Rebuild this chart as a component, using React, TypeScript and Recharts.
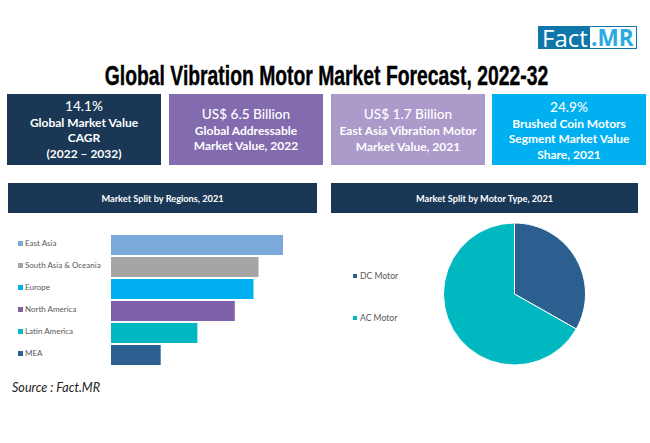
import { BarChart, Bar, XAxis, YAxis, Cell, PieChart, Pie, Legend } from "recharts";

const regions = ["East Asia", "South Asia & Oceania", "Europe", "North America", "Latin America", "MEA"];
const regionShare = [23.9, 20.5, 19.8, 17.2, 12.0, 6.9];
const regionColors = ["#7BA9DA", "#A5A5A5", "#00B0F0", "#7D60A8", "#00B8C0", "#2B5F8F"];

const motorTypes = ["DC Motor", "AC Motor"];
const motorShare = [33.2, 66.8];
const motorColors = ["#2B5F8F", "#00B8C0"];

const regionData = regions.map((name, i) => ({ name, value: regionShare[i], color: regionColors[i] }));
const motorData = motorTypes.map((name, i) => ({ name, value: motorShare[i] }));

const kpis = [
  { left: 7, width: 154, color: "#1A3755", pad: 3.5, head: "14.1%", lines: ["Global Market Value", "CAGR", "(2022 – 2032)"] },
  { left: 169, width: 154, color: "#826BAE", pad: 11.5, head: "US$ 6.5 Billion", lines: ["Global Addressable", "Market Value, 2022"] },
  { left: 331, width: 154, color: "#AC9ACB", pad: 12, head: "US$ 1.7 Billion", lines: ["East Asia Vibration Motor", "Market Value, 2021"] },
  { left: 492, width: 154, color: "#00B0F0", pad: 4.5, head: "24.9%", lines: ["Brushed Coin Motors", "Segment Market Value", "Share, 2021"] },
];

const font = "Lato, sans-serif";

function RegionTick(props: any) {
  const { y = 0, index = 0, payload } = props;
  return (
    <g>
      <rect x={18} y={y - 4} width={5} height={5} fill={regionColors[index]} />
      <text x={25} y={y - 1.5} dominantBaseline="middle" fontSize={8} fontFamily={font} fill="#595959">
        {payload?.value}
      </text>
    </g>
  );
}

function MotorLegend(props: any) {
  const items = props.payload ?? [];
  return (
    <div>
      {items.map((it: any) => (
        <div key={it.value} style={{ height: 42, display: "flex", alignItems: "flex-start", fontSize: 8.6, lineHeight: "12px", color: "#595959", fontFamily: font }}>
          <span style={{ width: 4, height: 4, marginTop: 4, marginRight: 3, background: it.color }} />
          {it.value}
        </div>
      ))}
    </div>
  );
}

function Header({ left, width, text }: { left: number; width: number; text: string }) {
  return (
    <div style={{ position: "absolute", left, top: 183, width, height: 30, background: "#1A3755", color: "#fff", fontFamily: font, fontWeight: 700, fontSize: 9.2, lineHeight: "31px", textAlign: "center" }}>
      {text}
    </div>
  );
}

export default function App() {
  return (
    <div style={{ position: "absolute", left: 0, top: 0, width: 650, height: 443, background: "#fff", overflow: "hidden" }}>
      {/* logo */}
      <div style={{ position: "absolute", left: 538, top: 26, width: 99, height: 23, border: "1px solid #0E76A8", boxSizing: "border-box" }} />
      <div style={{ position: "absolute", left: 538, top: 26, width: 52, height: 23, background: "#0E76A8", color: "#fff", fontFamily: "'Open Sans', sans-serif", fontSize: 24, lineHeight: "23px", paddingLeft: 4, boxSizing: "border-box" }}>
        Fact
      </div>
      <div style={{ position: "absolute", left: 590, top: 26, width: 47, height: 23, color: "#29ABE2", fontFamily: "'Open Sans', sans-serif", fontWeight: 700, fontSize: 22.5, lineHeight: "23px", paddingLeft: 1, boxSizing: "border-box", whiteSpace: "nowrap" }}>
        .MR
      </div>

      {/* squeezed to get the condensed poster look of the original title */}
      <div style={{ position: "absolute", left: 6, top: 60, width: 641, height: 32, textAlign: "center", whiteSpace: "nowrap", fontFamily: "'Liberation Sans', sans-serif", fontWeight: 700, fontSize: 27, lineHeight: "32px", color: "#000", WebkitTextStroke: "0.4px #000", transform: "scaleX(0.716)" }}>
        Global Vibration Motor Market Forecast, 2022-32
      </div>

      {kpis.map((k) => (
        <div key={k.head} style={{ position: "absolute", left: k.left, top: 94, width: k.width, height: 71, background: k.color, color: "#fff", fontFamily: font, textAlign: "center", boxSizing: "border-box", paddingTop: k.pad }}>
          <div style={{ fontSize: 13.6, fontWeight: 500, lineHeight: "17px" }}>{k.head}</div>
          {k.lines.map((l) => (
            <div key={l} style={{ fontSize: 12, fontWeight: 700, lineHeight: "15.5px" }}>{l}</div>
          ))}
        </div>
      ))}

      <Header left={8} width={309} text="Market Split by Regions, 2021" />
      <Header left={331} width={307} text="Market Split by Motor Type, 2021" />

      <div style={{ position: "absolute", left: 0, top: 220 }}>
        <BarChart layout="vertical" width={300} height={160} data={regionData} margin={{ top: 14, right: 17, bottom: 14, left: 0 }} barCategoryGap={1}>
          <XAxis type="number" hide domain={[0, 23.9]} />
          <YAxis type="category" dataKey="name" width={111} axisLine={false} tickLine={false} interval={0} tick={<RegionTick />} />
          <Bar dataKey="value" isAnimationActive={false}>
            {regionData.map((d) => (
              <Cell key={d.name} fill={d.color} />
            ))}
          </Bar>
        </BarChart>
      </div>

      <div style={{ position: "absolute", left: 331, top: 215 }}>
        <PieChart width={307} height={160} margin={{ top: 0, right: 0, bottom: 0, left: 0 }}>
          <Pie data={motorData} dataKey="value" nameKey="name" cx={113.5} cy={79} outerRadius={71} startAngle={90} endAngle={-270} stroke="#fff" strokeWidth={1} isAnimationActive={false}>
            {motorData.map((d, i) => (
              <Cell key={d.name} fill={motorColors[i]} />
            ))}
          </Pie>
          <Legend layout="vertical" align="left" verticalAlign="top" itemSorter={null} content={<MotorLegend />} wrapperStyle={{ left: 22, top: 55, width: 70 }} />
        </PieChart>
      </div>

      <div style={{ position: "absolute", left: 12, top: 380, fontFamily: font, fontStyle: "italic", fontSize: 12.6, lineHeight: "16px", color: "#222" }}>
        Source : Fact.MR
      </div>
    </div>
  );
}
